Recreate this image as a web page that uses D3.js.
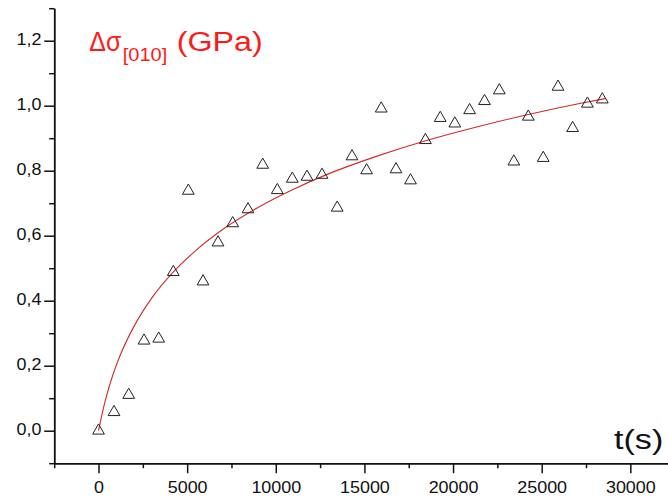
<!DOCTYPE html>
<html>
<head>
<meta charset="utf-8">
<script src="https://cdn.jsdelivr.net/npm/d3@7"></script>
<style>
  html, body { margin: 0; padding: 0; background: #fff; }
  svg { display: block; font-family: "Liberation Sans", Arial, sans-serif; }
</style>
</head>
<body>
<svg id="chart" width="668" height="500"></svg>
<script>
// ---- data ----
const timeS = [0, 874, 1704, 2567, 3396, 4220, 5066, 5895, 6741, 7570, 8434, 9263,
  10086, 10932, 11762, 12608, 13465, 14300, 15124, 15948, 16783, 17600, 18441, 19276,
  20099, 20934, 21775, 22610, 23428, 24246, 25086, 25921, 26745, 27580, 28420];
const deltaSigma = [0.0, 0.057, 0.110, 0.277, 0.283, 0.488, 0.738, 0.459, 0.579, 0.638,
  0.681, 0.818, 0.740, 0.775, 0.781, 0.787, 0.686, 0.844, 0.801, 0.991, 0.804, 0.770,
  0.894, 0.962, 0.945, 0.986, 1.014, 1.047, 0.828, 0.966, 0.839, 1.058, 0.931, 1.006, 1.019];

// fitted curve, points
const fitT = [0, 300, 700, 1200, 2000, 3000, 4200, 5500, 7000, 9000, 11000, 13000,
  15500, 18500, 21500, 24500, 27000, 28600];
const fitV = [0.0, 0.075, 0.153, 0.229, 0.321, 0.408, 0.487, 0.555, 0.619, 0.687, 0.743,
  0.791, 0.841, 0.893, 0.937, 0.976, 1.005, 1.022];

const xTicks = [0, 5000, 10000, 15000, 20000, 25000, 30000];
const xMinorTicks = [-2500, 2500, 7500, 12500, 17500, 22500, 27500, 32500];
const yTicks = [0.0, 0.2, 0.4, 0.6, 0.8, 1.0, 1.2];
const yMinorTicks = [-0.1, 0.1, 0.3, 0.5, 0.7, 0.9, 1.1, 1.3];

// ---- scales ----
const x = d3.scaleLinear().domain([-2500, 32500]).range([54.2, 54.2 + 35000 * 0.017727]);
const y = d3.scaleLinear().domain([-0.1, 1.3]).range([463.2, 8.2]);

const svg = d3.select("#chart");
const TS = 1.12; // horizontal stretch of tick labels

// minor ticks
const gxm = svg.append("g").attr("transform", `translate(0,${y(-0.1)})`)
  .call(d3.axisBottom(x).tickValues(xMinorTicks).tickSize(5).tickSizeOuter(0).tickFormat(""));
const gym = svg.append("g").attr("transform", `translate(${x(-2500)},0)`)
  .call(d3.axisLeft(y).tickValues(yMinorTicks).tickSize(5).tickSizeOuter(0).tickFormat(""));

// major axes
const gx = svg.append("g").attr("transform", `translate(0,${y(-0.1)})`)
  .call(d3.axisBottom(x).tickValues(xTicks).tickSize(10).tickSizeOuter(0).tickPadding(8)
    .tickFormat(d => String(d)));
const gy = svg.append("g").attr("transform", `translate(${x(-2500)},0)`)
  .call(d3.axisLeft(y).tickValues(yTicks).tickSize(10).tickSizeOuter(0).tickPadding(2)
    .tickFormat(d => d3.format(".1f")(d).replace(".", ",")));

[gxm, gym, gx, gy].forEach(g => {
  g.selectAll("path.domain").attr("stroke", "#111").attr("stroke-width", 1.5);
  g.selectAll(".tick line").attr("stroke", "#111").attr("stroke-width", 1.5);
});
gx.selectAll(".tick text")
  .attr("font-size", 16).attr("fill", "#111")
  .attr("font-family", "Liberation Sans, Arial, sans-serif")
  .attr("transform", `scale(${TS},1)`);
gy.selectAll(".tick text")
  .attr("font-size", 16).attr("fill", "#111")
  .attr("font-family", "Liberation Sans, Arial, sans-serif")
  .attr("x", -12.7 / TS).attr("dy", "0.23em")
  .attr("transform", `scale(${TS},1)`);

// fitted curve
const fitData = fitT.map((t, i) => [t, fitV[i]]);
svg.append("path")
  .datum(fitData)
  .attr("fill", "none")
  .attr("stroke", "#d42a2a")
  .attr("stroke-width", 1.1)
  .attr("d", d3.line().x(d => x(d[0])).y(d => y(d[1])).curve(d3.curveMonotoneX));

// data points (open triangles)
const tri = d3.symbol().type(d3.symbolTriangle).size(60);
svg.append("g").selectAll("path")
  .data(timeS.map((t, i) => [t, deltaSigma[i]]))
  .join("path")
  .attr("d", tri)
  .attr("transform", d => `translate(${x(d[0])},${y(d[1])})`)
  .attr("fill", "none")
  .attr("stroke", "#222")
  .attr("stroke-width", 1);

// title (red)
const red = "#ff1a1a";
svg.append("text").attr("x", 89.3).attr("y", 51).attr("font-size", 27).attr("fill", red)
  .attr("textLength", 32).attr("lengthAdjust", "spacingAndGlyphs").text("Δσ");
svg.append("text").attr("x", 122.7).attr("y", 61).attr("font-size", 18).attr("fill", red)
  .attr("textLength", 44.6).attr("lengthAdjust", "spacingAndGlyphs").text("[010]");
svg.append("text").attr("x", 176.7).attr("y", 51).attr("font-size", 27).attr("fill", red)
  .attr("textLength", 86).attr("lengthAdjust", "spacingAndGlyphs").text("(GPa)");

// x-axis label
svg.append("text").attr("x", 614).attr("y", 449).attr("font-size", 27).attr("fill", "#111")
  .attr("textLength", 49.3).attr("lengthAdjust", "spacingAndGlyphs").text("t(s)");
</script>
</body>
</html>
